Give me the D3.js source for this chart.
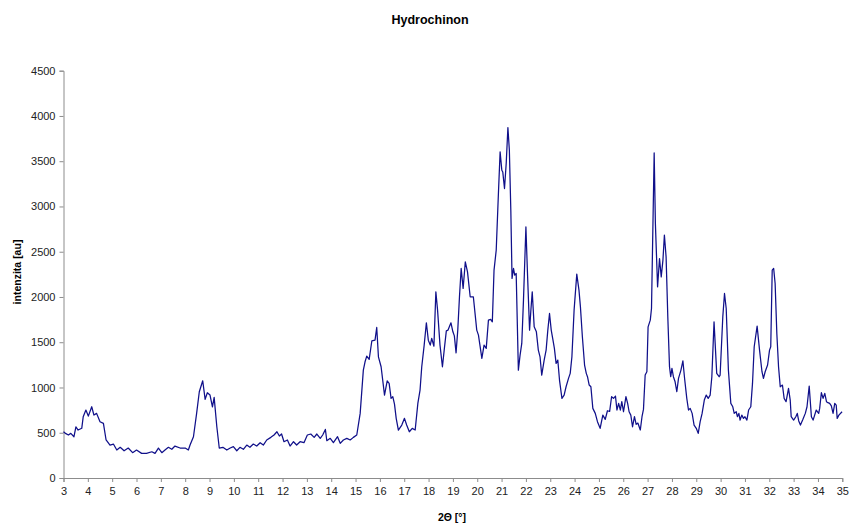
<!DOCTYPE html>
<html>
<head>
<meta charset="utf-8">
<script src="https://cdn.jsdelivr.net/npm/d3@7"></script>
<style>
  html, body { margin: 0; padding: 0; background: #fff; }
  svg { display: block; font-family: "Liberation Sans", Arial, sans-serif; }
</style>
</head>
<body>
<svg id="chart" width="849" height="523"></svg>
<script>
// Diffraction pattern of hydroquinone: 2θ angle [°] and intensity [au]
const twoTheta = [
  3.00,3.10,3.20,3.30,3.43,3.51,3.60,3.75,3.81,3.92,4.02,4.16,4.25,4.36,4.50,4.64,4.75,4.91,
  5.05,5.19,5.33,5.49,5.66,5.84,6.00,6.21,6.41,6.63,6.76,6.90,7.04,7.17,7.31,7.45,7.58,7.79,
  8.00,8.13,8.20,8.34,8.47,8.58,8.72,8.82,8.91,9.02,9.12,9.19,9.30,9.40,9.55,9.71,9.85,9.98,
  10.12,10.25,10.39,10.53,10.66,10.80,10.94,11.08,11.21,11.35,11.52,11.65,11.77,11.87,11.96,
  12.06,12.20,12.31,12.45,12.58,12.72,12.88,13.02,13.16,13.30,13.41,13.55,13.65,13.76,13.82,
  13.96,14.09,14.26,14.37,14.50,14.64,14.78,14.91,15.05,15.19,15.32,15.39,15.46,15.56,15.67,
  15.80,15.87,15.94,16.05,16.19,16.30,16.38,16.46,16.53,16.60,16.67,16.76,16.90,17.01,17.10,
  17.21,17.33,17.45,17.56,17.65,17.72,17.82,17.91,17.99,18.07,18.13,18.22,18.30,18.37,18.47,
  18.57,18.65,18.73,18.80,18.92,19.00,19.06,19.13,19.20,19.27,19.34,19.42,19.51,19.60,19.71,
  19.84,19.98,20.05,20.19,20.28,20.37,20.46,20.55,20.62,20.69,20.78,20.87,20.94,21.01,21.05,
  21.12,21.19,21.26,21.32,21.38,21.43,21.49,21.54,21.60,21.69,21.76,21.83,21.90,22.00,22.06,
  22.15,22.20,22.26,22.34,22.43,22.51,22.58,22.65,22.75,22.83,22.90,22.97,23.04,23.10,23.17,
  23.24,23.31,23.38,23.48,23.57,23.65,23.75,23.82,23.89,23.98,24.09,24.18,24.24,24.32,24.41,
  24.48,24.53,24.60,24.67,24.75,24.85,24.94,25.05,25.16,25.26,25.35,25.44,25.52,25.60,25.68,
  25.74,25.81,25.88,25.94,26.01,26.11,26.18,26.24,26.31,26.38,26.46,26.53,26.60,26.70,26.77,
  26.83,26.90,26.97,27.02,27.11,27.16,27.22,27.27,27.32,27.41,27.49,27.56,27.63,27.69,27.76,
  27.83,27.90,27.95,28.00,28.06,28.13,28.20,28.27,28.37,28.45,28.52,28.61,28.68,28.75,28.83,
  28.91,29.00,29.08,29.16,29.24,29.33,29.41,29.49,29.57,29.64,29.73,29.84,29.94,29.98,30.09,
  30.16,30.23,30.32,30.42,30.50,30.56,30.64,30.69,30.75,30.80,30.87,30.94,31.00,31.08,31.15,
  31.24,31.31,31.38,31.50,31.60,31.70,31.76,31.83,31.93,32.01,32.06,32.12,32.18,32.24,32.31,
  32.38,32.45,32.54,32.61,32.69,32.79,32.86,32.90,33.00,33.09,33.15,33.21,33.28,33.37,33.48,
  33.55,33.64,33.73,33.80,33.93,34.03,34.07,34.14,34.21,34.28,34.35,34.41,34.48,34.55,34.62,
  34.69,34.75,34.79,34.86,34.99
];
const intensity = [
  511,490,475,493,456,566,530,549,677,751,684,787,695,714,622,604,420,364,
  375,309,339,301,331,280,309,272,272,290,272,331,280,309,339,317,353,331,
  331,309,364,456,714,953,1074,869,942,916,787,891,566,331,339,309,331,346,
  301,339,317,364,339,375,353,390,364,420,449,475,511,464,486,
  401,420,353,401,364,401,390,475,486,449,486,438,475,537,412,
  438,390,456,383,420,438,420,449,475,714,1192,1284,1347,1310,1516,
  1523,1663,1339,1229,916,1074,1045,880,898,817,659,530,585,659,585,
  511,548,530,824,971,1229,1468,1715,1523,1468,1542,1456,2057,1855,1468,
  1229,1432,1626,1634,1715,1615,1570,1383,1634,2002,2315,2094,2388,2278,2002,
  2002,1634,1579,1321,1468,1432,1744,1752,1726,2296,2517,3143,3603,3400,3380,
  3198,3474,3872,3621,2959,2205,2315,2241,2260,1192,1358,1487,1965,2774,2296,
  1634,1836,2057,1670,1615,1413,1339,1137,1303,1413,1634,1818,1634,1542,1432,
  1266,1303,1082,880,916,1008,1101,1156,1339,1855,2252,2076,1891,1560,1248,
  1156,1119,1027,1008,769,714,622,549,695,648,743,735,898,880,905,
  751,824,751,843,732,898,824,732,695,566,677,593,607,530,677,
  758,1137,1174,1670,1744,1873,2812,3591,2812,2112,2425,2222,2407,2683,2443,
  1781,1229,1119,1211,1119,1063,953,1100,1192,1295,1100,880,751,769,714,
  585,549,493,622,714,861,916,880,916,1119,1726,1156,1119,1137,1781,
  2039,1873,1192,824,787,714,732,677,714,640,695,659,677,640,751,
  787,1045,1450,1678,1413,1174,1101,1174,1248,1413,1450,2296,2315,2149,1597,
  1229,1008,1027,880,843,990,861,677,640,677,714,630,585,640,714,
  787,1016,677,640,751,714,769,942,880,935,843,832,824,796,714,
  824,806,659,695,732
];

const xTicks = d3.range(3, 36, 1);
const yTicks = d3.range(0, 4501, 500);

const chartTitle = "Hydrochinon";
const xTitle = "2\u0398 [\u00b0]";
const yTitle = "intenzita [au]";

const svg = d3.select("#chart");
const plotLeft = 63.5, plotRight = 842.3, plotTop = 70.7, plotBottom = 478;

const x = d3.scaleLinear().domain([3, 35]).range([plotLeft, plotRight]);
const y = d3.scaleLinear().domain([0, 4500]).range([plotBottom, plotTop]);

const axisColor = "#8c8c8c";
const textColor = "#222";

// Y axis
const gy = svg.append("g")
  .attr("transform", `translate(${plotLeft},0)`)
  .call(d3.axisLeft(y).tickValues(yTicks).tickSize(4).tickPadding(4).tickFormat(d3.format("d")));
gy.select(".domain").attr("stroke", axisColor);
gy.selectAll(".tick line").attr("stroke", axisColor);
gy.selectAll(".tick text").attr("fill", textColor).style("font-size", "11px")
  .style("font-family", "'Liberation Sans', Arial, sans-serif");

// X axis
const gx = svg.append("g")
  .attr("transform", `translate(0,${plotBottom})`)
  .call(d3.axisBottom(x).tickValues(xTicks).tickSize(4).tickPadding(5).tickFormat(d3.format("d")));
gx.select(".domain").attr("stroke", axisColor);
gx.selectAll(".tick line").attr("stroke", axisColor);
gx.selectAll(".tick text").attr("fill", textColor).style("font-size", "11px")
  .style("font-family", "'Liberation Sans', Arial, sans-serif");

// Pattern line
const points = twoTheta.map((t, i) => [t, intensity[i]]);
svg.append("path")
  .datum(points)
  .attr("fill", "none")
  .attr("stroke", "#10108a")
  .attr("stroke-width", 1.25)
  .attr("stroke-linejoin", "round")
  .attr("d", d3.line().x(d => x(d[0])).y(d => y(d[1])));

// Titles
svg.append("text")
  .attr("x", 430).attr("y", 24)
  .attr("text-anchor", "middle")
  .attr("font-weight", "bold").attr("font-size", 12.5)
  .attr("fill", "#000")
  .text(chartTitle);

svg.append("text")
  .attr("x", 452).attr("y", 521)
  .attr("text-anchor", "middle")
  .attr("font-weight", "bold").attr("font-size", 10.5)
  .attr("fill", "#000")
  .text(xTitle);

svg.append("text")
  .attr("transform", "translate(21,272) rotate(-90)")
  .attr("text-anchor", "middle")
  .attr("font-weight", "bold").attr("font-size", 10.5)
  .attr("fill", "#000")
  .text(yTitle);
</script>
</body>
</html>
